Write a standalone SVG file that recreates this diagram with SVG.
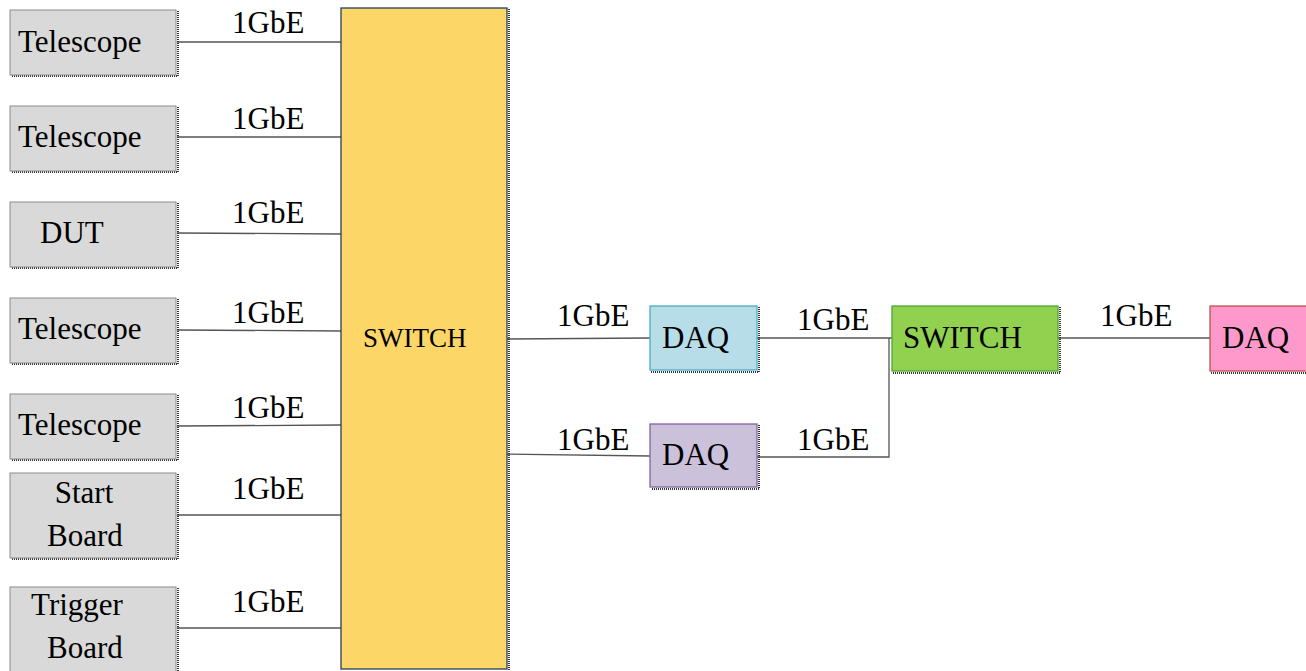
<svg xmlns="http://www.w3.org/2000/svg" width="1306" height="671" viewBox="0 0 1306 671">
<style>
.t{font-family:"Liberation Serif","Times New Roman",serif;font-size:31px;fill:#000}
.lbl{font-family:"Liberation Serif","Times New Roman",serif;font-size:31px;fill:#000}
.sw{font-family:"Liberation Serif","Times New Roman",serif;font-size:27px;fill:#000}
.gray{fill:#D9D9D9;stroke:#8C8C8C;stroke-width:1}
.sh{fill:none;stroke:#333;stroke-width:2;stroke-dasharray:1 1}
.ln{fill:none;stroke:#555;stroke-width:1.3}
</style>
<rect width="1306" height="671" fill="#fff"/>
<g id="connectors">
<line class="ln" x1="177" y1="42" x2="341" y2="42"/>
<line class="ln" x1="177" y1="137" x2="341" y2="137"/>
<line class="ln" x1="177" y1="233" x2="341" y2="234"/>
<line class="ln" x1="177" y1="330" x2="341" y2="331"/>
<line class="ln" x1="177" y1="426" x2="341" y2="425"/>
<line class="ln" x1="177" y1="515" x2="341" y2="515"/>
<line class="ln" x1="177" y1="628" x2="341" y2="628"/>
<line class="ln" x1="507" y1="339" x2="650" y2="338"/>
<line class="ln" x1="505" y1="454" x2="650" y2="456"/>
<line class="ln" x1="757" y1="338" x2="892" y2="338"/>
<polyline class="ln" points="757,457 889,457 889,338"/>
<line class="ln" x1="1058" y1="338" x2="1210" y2="338"/>
<text class="lbl" x="232" y="33">1GbE</text>
<text class="lbl" x="232" y="129">1GbE</text>
<text class="lbl" x="232" y="223">1GbE</text>
<text class="lbl" x="232" y="323">1GbE</text>
<text class="lbl" x="232" y="418">1GbE</text>
<text class="lbl" x="232" y="499">1GbE</text>
<text class="lbl" x="232" y="612">1GbE</text>
<text class="lbl" x="557" y="326">1GbE</text>
<text class="lbl" x="557" y="450">1GbE</text>
<text class="lbl" x="797" y="330">1GbE</text>
<text class="lbl" x="797" y="450">1GbE</text>
<text class="lbl" x="1100" y="326">1GbE</text>
</g>
<g id="tele1">
<polyline class="sh" points="178,11 178,76 11,76"/>
<rect class="gray" x="10" y="10" width="166" height="65"/>
<text class="t" x="18" y="52">Telescope</text>
</g>
<g id="tele2">
<polyline class="sh" points="178,107 178,172 11,172"/>
<rect class="gray" x="10" y="106" width="166" height="65"/>
<text class="t" x="18" y="147">Telescope</text>
</g>
<g id="dut">
<polyline class="sh" points="178,203 178,268 11,268"/>
<rect class="gray" x="10" y="202" width="166" height="65"/>
<text class="t" x="40" y="243">DUT</text>
</g>
<g id="tele3">
<polyline class="sh" points="178,299 178,364 11,364"/>
<rect class="gray" x="10" y="298" width="166" height="65"/>
<text class="t" x="18" y="339">Telescope</text>
</g>
<g id="tele4">
<polyline class="sh" points="178,395 178,460 11,460"/>
<rect class="gray" x="10" y="394" width="166" height="65"/>
<text class="t" x="18" y="435">Telescope</text>
</g>
<g id="start">
<polyline class="sh" points="178,474 178,559 11,559"/>
<rect class="gray" x="10" y="473" width="166" height="85"/>
<text class="t" x="84" y="503" text-anchor="middle">Start</text>
<text class="t" x="85" y="546" text-anchor="middle">Board</text>
</g>
<g id="trigger">
<polyline class="sh" points="178,588 178,672"/>
<rect class="gray" x="10" y="587" width="166" height="90"/>
<text class="t" x="77" y="615" text-anchor="middle">Trigger</text>
<text class="t" x="85" y="658" text-anchor="middle">Board</text>
</g>
<g id="switch1">
<polyline class="sh" points="509,9 509,670"/>
<rect x="341" y="8" width="166" height="661" fill="#FDD668" stroke="#243F60" stroke-width="1.3"/>
<text class="sw" x="363" y="347">SWITCH</text>
</g>
<g id="daq1">
<polyline class="sh" points="759,307 759,372 651,372"/>
<rect x="650" y="306" width="107" height="64" fill="#B7DDE8" stroke="#4BACC6" stroke-width="1.3"/>
<text class="t" x="662" y="348">DAQ</text>
</g>
<g id="daq2">
<polyline class="sh" points="759,425 759,489 651,489"/>
<rect x="650" y="424" width="107" height="63" fill="#CCC1DA" stroke="#8064A2" stroke-width="1.3"/>
<text class="t" x="662" y="465">DAQ</text>
</g>
<g id="switch2">
<polyline class="sh" points="1060,307 1060,373 893,373"/>
<rect x="892" y="306" width="166" height="65" fill="#92D050" stroke="#4EA72E" stroke-width="1.3"/>
<text class="t" x="903" y="348">SWITCH</text>
</g>
<g id="daq3">
<polyline class="sh" points="1211,373 1306,373"/>
<rect x="1210" y="306" width="100" height="65" fill="#FF99CC" stroke="#C0504D" stroke-width="1.3"/>
<text class="t" x="1222" y="348">DAQ</text>
</g>
</svg>
